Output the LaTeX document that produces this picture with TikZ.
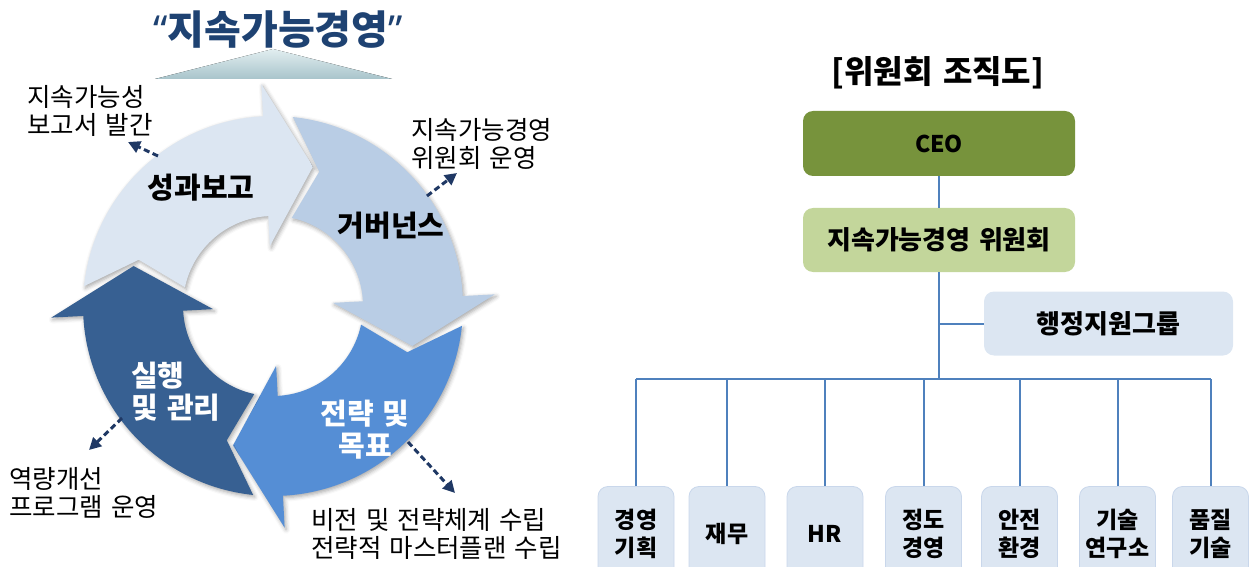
\documentclass[tikz,border=0pt]{standalone}
\usepackage{fontspec}
\setmainfont[WordSpace=1.4]{Noto Sans CJK KR}
\newfontfamily\latinfont{Noto Sans}
\usetikzlibrary{arrows.meta,shadows.blur,calc}
\definecolor{cA}{HTML}{DCE6F2}
\definecolor{cB}{HTML}{B9CDE5}
\definecolor{cC}{HTML}{558ED5}
\definecolor{cD}{HTML}{376092}
\definecolor{navy}{HTML}{1F3864}
\definecolor{titlec}{HTML}{1E4272}
\definecolor{ceoc}{HTML}{77933C}
\definecolor{commc}{HTML}{C3D69B}
\definecolor{lightc}{HTML}{DCE6F2}
\definecolor{unitb}{HTML}{C9D7EB}
\definecolor{lline}{HTML}{4F81BD}
\definecolor{roofA}{HTML}{E2EEF0}
\definecolor{roofB}{HTML}{A8C4CB}
\tikzset{
  cyc/.style={blur shadow={shadow xshift=1.5pt,shadow yshift=-2pt,shadow blur radius=4pt,shadow opacity=35}},
  lbl/.style={anchor=north west, align=left, inner sep=0pt, font=\fontsize{25.5}{28}\selectfont},
  arlbl/.style={inner sep=0pt, font=\fontsize{29}{32}\selectfont\bfseries},
  dasharrow/.style={draw=navy, line width=3pt, dash pattern=on 6pt off 3.5pt, -{Triangle[length=12pt,width=12pt]}},
  orgbox/.style={rounded corners=10pt, inner sep=0pt, font=\fontsize{26}{28}\selectfont\bfseries},
  unitbox/.style={orgbox, fill=lightc, draw=unitb, line width=0.8pt, minimum width=76pt, minimum height=94pt, align=center, font=\fontsize{23}{28}\selectfont\bfseries},
  orgline/.style={draw=lline, line width=2pt},
}
\newcommand{\cyclearrow}[2]{%
  \path[fill=#2, cyc] ({#1-84}:190) arc[start angle={#1-84}, end angle={#1-3}, radius=190]
    -- ({#1-3}:222) -- ({#1+16}:145) -- ({#1-3}:60) -- ({#1-3}:90)
    arc[start angle={#1-3}, end angle={#1-78}, radius=90] -- ({#1-71}:142) -- cycle;}
\begin{document}
\begin{tikzpicture}[x=1pt,y=-1pt]
\useasboundingbox (0,0) rectangle (1254,567);
\clip (0,0) rectangle (1254,567);
% ---------- left: cycle ----------
\node[font=\fontsize{40}{44}\selectfont\bfseries, text=titlec, inner sep=0pt] (title) at (278,30) {{\latinfont“}지속가능경영{\latinfont”}};
\fill[top color=roofA, bottom color=roofB] (273,49) -- (392,79) -- (155,79) -- cycle;
\begin{scope}[shift={(273,306)}]
  \cyclearrow{270}{cA}
  \cyclearrow{0}{cB}
  \cyclearrow{90}{cC}
  \cyclearrow{180}{cD}
\end{scope}
\node[arlbl] (t1) at (201,188) {성과보고};
\node[arlbl] (t2) at (391,226) {거버넌스};
\node[arlbl, text=white, anchor=north west, align=left] (t3) at (131,362) {실행\\및 관리};
\node[arlbl, text=white, anchor=north, align=center] (t4) at (365,400) {전략 및\\목표};
\node[lbl] (l1) at (27,85) {지속가능성\\보고서 발간};
\node[lbl] (l2) at (411,118) {지속가능경영\\위원회 운영};
\node[lbl] (l3) at (9,467) {역량개선\\프로그램 운영};
\node[lbl] (l4) at (311,508) {비전 및 전략체계 수립\\전략적 마스터플랜 수립};
\coordinate (d1s) at (158,156); \coordinate (d1e) at (128,142);
\coordinate (d2s) at (427,196); \coordinate (d2e) at (457,173);
\coordinate (d3s) at (122,418); \coordinate (d3e) at (89,450);
\coordinate (d4s) at (408,442); \coordinate (d4e) at (455,493);
\draw[dasharrow] (d1s) -- (d1e);
\draw[dasharrow] (d2s) -- (d2e);
\draw[dasharrow] (d3s) -- (d3e);
\draw[dasharrow] (d4s) -- (d4e);
% ---------- right: org chart ----------
\node[font=\fontsize{32}{34}\selectfont\bfseries, inner sep=0pt] (otitle) at (938,73) {[위원회 조직도]};
\node[orgbox, fill=ceoc, minimum width=272pt, minimum height=65pt, font=\fontsize{23}{26}\selectfont\bfseries] (ceo) at (939,143.5) {CEO};
\node[orgbox, fill=commc, minimum width=272pt, minimum height=64pt] (comm) at (939,240) {지속가능경영 위원회};
\node[orgbox, fill=lightc, minimum width=249pt, minimum height=64pt] (admin) at (1108.5,323.5) {행정지원그룹};
\coordinate (bus) at (939,379);
\node[unitbox] (u1) at (636,533.5) {경영\\기획};
\node[unitbox] (u2) at (727,533.5) {재무};
\node[unitbox] (u3) at (825,533.5) {HR};
\node[unitbox] (u4) at (923.5,533.5) {정도\\경영};
\node[unitbox] (u5) at (1019.5,533.5) {안전\\환경};
\node[unitbox] (u6) at (1117.5,533.5) {기술\\연구소};
\node[unitbox] (u7) at (1210.5,533.5) {품질\\기술};
\draw[orgline] (ceo.south) -- (comm.north);
\draw[orgline] (comm.south) -- (bus);
\draw[orgline] (admin.west) -- (admin.west -| comm.south);
\draw[orgline] (u1.north |- bus) -- (u7.north |- bus);
\foreach \i in {1,...,7}{\draw[orgline] (u\i.north) -- (u\i.north |- bus);}
\end{tikzpicture}
\end{document}
